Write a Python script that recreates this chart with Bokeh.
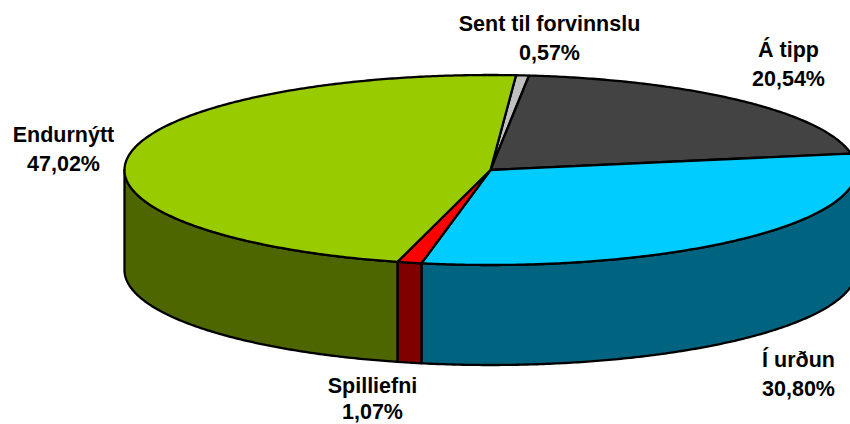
import numpy as np
from bokeh.plotting import figure
from bokeh.models import Range1d
from bokeh.core.properties import value
from bokeh.embed import file_html
from bokeh.resources import INLINE

# data
names = ["Sent til forvinnslu", "Á tipp", "Í urðun", "Spilliefni", "Endurnýtt"]
shares = [0.57, 20.54, 30.80, 1.07, 47.02]

# styles
top_colors = ["#C0C0C0", "#434343", "#00CCFF", "#FF0000", "#99CC00"]
side_colors = ["#606060", "#222222", "#006480", "#800000", "#4D6600"]

# layout (page pixels)
CX, CY, RX, RY, DEPTH = 490, 169.5, 366, 95, 100
START_DEG = 4.0
label_x = [549, 788, 798, 372, 63]
name_y = [23, 49, 359, 385, 134]
pct_y = [52, 78, 388, 411.5, 163]

p = figure(width=850, height=424, x_range=Range1d(0, 850), y_range=Range1d(424, 0),
           output_backend="svg", toolbar_location=None, min_border=0)
p.axis.visible = False
p.grid.visible = False
p.outline_line_color = None
p.background_fill_color = "white"


def rim(a0, a1, dy=0.0):
    t = np.radians(np.linspace(a0, a1, max(int(abs(a1 - a0) * 2), 2)))
    return CX + RX * np.sin(t), CY - RY * np.cos(t) + dy


edges = START_DEG + np.concatenate([[0], np.cumsum(shares)]) * 360 / sum(shares)

# side wall: visible only on the front half of the ellipse
sx, sy, sc = [], [], []
for a0, a1, c in zip(edges[:-1], edges[1:], side_colors):
    lo, hi = max(a0, 90), min(a1, 270)
    if hi <= lo:
        continue
    xt, yt = rim(lo, hi)
    xb, yb = rim(hi, lo, DEPTH)
    sx.append(np.concatenate([xt, xb]))
    sy.append(np.concatenate([yt, yb]))
    sc.append(c)
p.patches(sx, sy, fill_color=sc, line_color="black", line_width=2.3, line_join="round")

# top face
tx, ty = [], []
for a0, a1 in zip(edges[:-1], edges[1:]):
    xr, yr = rim(a0, a1)
    tx.append(np.concatenate([[CX], xr]))
    ty.append(np.concatenate([[CY], yr]))
p.patches(tx, ty, fill_color=top_colors, line_color="black", line_width=2.3, line_join="round")

# labels
pct = [f"{v:.2f}".replace(".", ",") + "%" for v in shares]
font = dict(text_font=value("Liberation Sans"), text_font_style="bold", text_font_size="21.5px",
            text_align="center", text_baseline="middle", text_color="black")
p.text(label_x, name_y, text=names, **font)
p.text(label_x, pct_y, text=pct, **font)

open("out.html", "w").write(file_html(p, INLINE))
